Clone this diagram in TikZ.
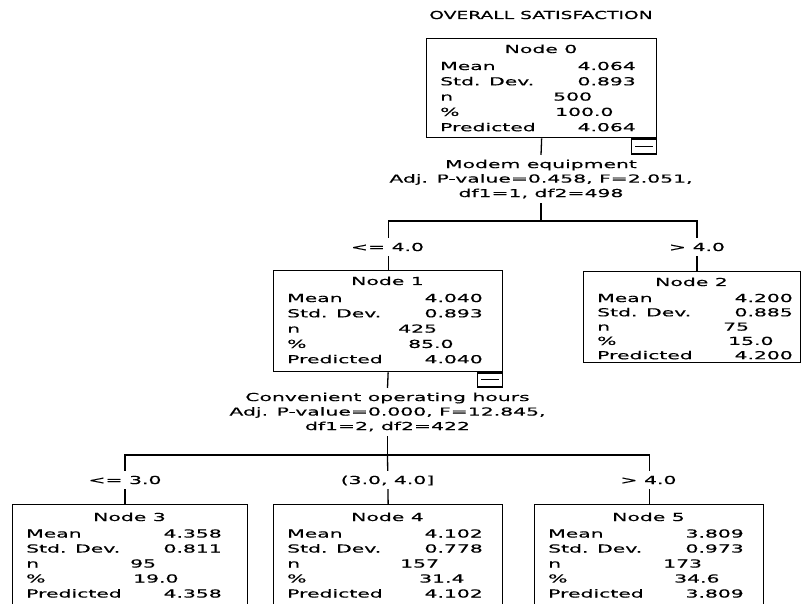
\documentclass[tikz,border=0pt]{standalone}
\usepackage{fontspec}
\newfontfamily\spssfont[FakeStretch=1.85,FakeBold=0.35]{DejaVu Sans}
\newfontfamily\spsstitlefont[FakeStretch=1.7,FakeBold=0.35]{DejaVu Sans}
\usetikzlibrary{calc}
\tikzset{
  treebox/.style={draw=black, line width=1.3pt, inner sep=0pt, anchor=north west},
  rowtxt/.style={font=\spssfont\fontsize{11}{14}\selectfont, inner sep=0pt, text height=8pt, text depth=0pt},
  lab/.style={rowtxt, anchor=west},
  val/.style={rowtxt, anchor=east},
  elab/.style={rowtxt, fill=white, inner xsep=1pt, inner ysep=5pt},
  splitlab/.style={font=\spssfont\fontsize{11}{14.5}\selectfont, align=center, inner xsep=0pt, inner ysep=4.5pt},
  conn/.style={draw=black, line width=1.3pt},
  minusbox/.style={draw=black, line width=1.3pt, inner sep=0pt, anchor=north east, minimum width=25pt},
  titletxt/.style={font=\spsstitlefont\fontsize{11}{14}\selectfont, inner sep=0pt, text height=8pt, text depth=0pt}
}
% #1 name, #2 left, #3 top, #4 width, #5 height, #6 number, #7 mean/predicted, #8 sd
\newcommand\spssbox[8]{%
  \node[treebox, minimum width=#4pt, minimum height=#5pt] (#1) at (#2,#3) {};
  \node[rowtxt] (#1-title) at (#2+#4/2, #3+\titleoff) {Node #6};
  \node[lab] (#1-ml) at (#2+14, #3+\firstrow) {Mean};
  \node[val] (#1-mv) at (#2+210, #3+\firstrow) {#7};
  \node[lab] (#1-sl) at (#2+14, #3+\firstrow+\rowsep) {Std. Dev.};
  \node[val] (#1-sv) at (#2+210, #3+\firstrow+\rowsep) {#8};
  \node[lab] (#1-nl) at (#2+14, #3+\firstrow+2*\rowsep) {n};
  \node[lab] (#1-pl) at (#2+14, #3+\firstrow+3*\rowsep) {\%};
  \node[lab] (#1-rl) at (#2+14, #3+\firstrow+4*\rowsep) {Predicted};
  \node[val] (#1-rv) at (#2+210, #3+\firstrow+4*\rowsep) {#7};
}
% #1 name, #2 top, #3 n, #4 n x, #5 pct, #6 pct x
\newcommand\spssnp[6]{%
  \node[lab] (#1-nv) at (#4, #2+\firstrow+2*\rowsep) {#3};
  \node[lab] (#1-pv) at (#6, #2+\firstrow+3*\rowsep) {#5};
}
\begin{document}
\begin{tikzpicture}[x=1pt,y=-1pt]
\useasboundingbox (0,0) rectangle (801,604);
\clip (0,0) rectangle (801,604);
\fill[white] (0,0) rectangle (801,604);

\node[titletxt] (title) at (541,15) {OVERALL SATISFACTION};

% top row
\def\titleoff{11}\def\firstrow{28}\def\rowsep{15.3}
\spssbox{n0}{426}{38}{230}{99}{0}{4.064}{0.893}
\spssnp{n0}{38}{500}{553}{100.0}{555}
\node[minusbox, minimum height=15pt] (m0) at (n0.south east) {};
\draw[line width=1pt] ([xshift=4pt]m0.west) -- ([xshift=-4pt]m0.east);

\spssbox{n1}{273}{270}{229}{101}{1}{4.040}{0.893}
\spssnp{n1}{270}{425}{398}{85.0}{408}
\node[minusbox, minimum height=14pt] (m1) at (n1.south east) {};
\draw[line width=1pt] ([xshift=4pt]m1.west) -- ([xshift=-4pt]m1.east);

\def\titleoff{11}\def\firstrow{27}\def\rowsep{14.3}
\spssbox{n2}{583}{271}{217}{91}{2}{4.200}{0.885}
\spssnp{n2}{271}{75}{723}{15.0}{728}

% bottom row
\def\titleoff{13}\def\firstrow{29.5}\def\rowsep{15}
\spssbox{n3}{12}{504}{235}{110}{3}{4.358}{0.811}
\spssnp{n3}{504}{95}{130}{19.0}{133}
\spssbox{n4}{273}{504}{229}{110}{4}{4.102}{0.778}
\spssnp{n4}{504}{157}{400}{31.4}{419}
\spssbox{n5}{534}{504}{229}{110}{5}{3.809}{0.973}
\spssnp{n5}{504}{173}{663}{34.6}{674}

% split labels
\node[splitlab] (sp0) at (541,179) {Modem equipment\\Adj. P-value=0.458, F=2.051,\\df1=1, df2=498};
\node[splitlab] (sp1) at (387.5,412) {Convenient operating hours\\Adj. P-value=0.000, F=12.845,\\df1=2, df2=422};

% attachment points
\coordinate (j0) at (541,221);
\coordinate (j1) at (387.5,455);
\coordinate (n2in) at ([xshift=114pt]n2.north west);
\coordinate (n3in) at ([xshift=113pt]n3.north west);

% connectors
\draw[conn] (n0.south) -- (sp0.north);
\draw[conn] (sp0.south) -- (j0);
\draw[conn] (j0) -| (n1.north);
\draw[conn] (j0) -| (n2in);
\draw[conn] (n1.south) -- (sp1.north);
\draw[conn] (sp1.south) -- (j1);
\draw[conn] (j1) -| (n3in);
\draw[conn] (j1) -- (n4.north);
\draw[conn] (j1) -| (n5.north);

% edge labels
\node[elab] (e1) at (387.5,247) {<= 4.0};
\node[elab] (e2) at (697,247) {> 4.0};
\node[elab] (e3) at (125,480) {<= 3.0};
\node[elab] (e4) at (387.5,480) {(3.0, 4.0]};
\node[elab] (e5) at (648.5,480) {> 4.0};
\end{tikzpicture}
\end{document}
